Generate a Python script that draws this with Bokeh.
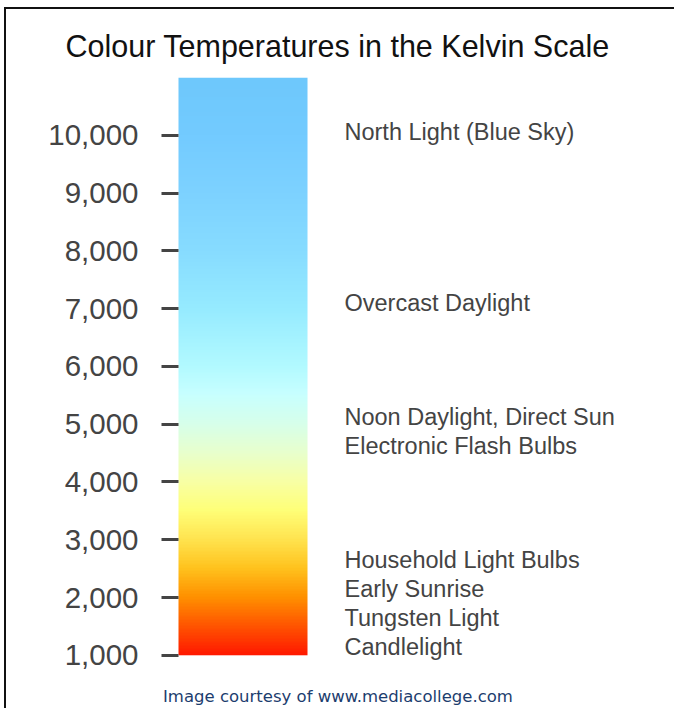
import numpy as np
from bokeh.plotting import figure
from bokeh.models import Range1d, FixedTicker, NumeralTickFormatter, Label
from bokeh.core.properties import value
from bokeh.embed import file_html
from bokeh.resources import INLINE

# ---- data ----
tick_values = [1000, 2000, 3000, 4000, 5000, 6000, 7000, 8000, 9000, 10000]
label_texts = ["North Light (Blue Sky)", "Overcast Daylight",
               "Noon Daylight, Direct Sun", "Electronic Flash Bulbs",
               "Household Light Bulbs", "Early Sunrise",
               "Tungsten Light", "Candlelight"]
label_kelvin = [10050, 7100, 5130, 4630, 2650, 2150, 1650, 1150]

# colour stops of the gradient bar (kelvin -> rgb)
stop_kelvin = [1000, 1500, 2000, 2500, 3000, 3500, 4000, 4500, 5000,
               5500, 6000, 7000, 8000, 9000, 10000, 11000]
stop_r = [255, 255, 255, 255, 255, 255, 248, 232, 215, 200, 178, 150, 135, 125, 115, 110]
stop_g = [25, 85, 145, 195, 228, 255, 255, 255, 255, 255, 250, 235, 220, 210, 203, 200]
stop_b = [0, 0, 0, 30, 80, 120, 165, 205, 235, 255, 255, 255, 255, 255, 255, 252]

bar_low, bar_high = 1000, 11000

# ---- layout (pixels) ----
W, H = 670, 701
frame_left = 155          # frame starts where the ticks start
frame_top = 68
px_per_k = 520 / 9000     # vertical scale
unit_px = 129.0           # one x unit = bar width
tick_len = 17
view_low = bar_high - (H - frame_top) / px_per_k
x_max = (W - frame_left) / unit_px
bar_x0 = tick_len / unit_px

p = figure(width=W, height=H, output_backend="svg", toolbar_location=None,
           x_range=Range1d(0, x_max), y_range=Range1d(view_low, bar_high),
           min_border_left=frame_left, min_border_right=0,
           min_border_top=frame_top, min_border_bottom=0)
p.styles = {"margin-left": "4px", "margin-top": "7px",
            "border-top": "2px solid #111", "border-left": "2px solid #111"}
p.outline_line_color = None
p.background_fill_color = "white"
p.border_fill_color = "white"
p.xgrid.visible = False
p.ygrid.visible = False
p.xaxis.visible = False

# gradient bar
N = 400
ks = np.linspace(bar_low, bar_high, N)
img = np.empty((N, 1), dtype=np.uint32)
view = img.view(dtype=np.uint8).reshape((N, 1, 4))
view[:, 0, 0] = np.interp(ks, stop_kelvin, stop_r).astype(np.uint8)
view[:, 0, 1] = np.interp(ks, stop_kelvin, stop_g).astype(np.uint8)
view[:, 0, 2] = np.interp(ks, stop_kelvin, stop_b).astype(np.uint8)
view[:, 0, 3] = 255
p.image_rgba(image=[img], x=bar_x0, y=bar_low, dw=1, dh=bar_high - bar_low)

# axis (ticks drawn inward, up to the bar)
ax = p.yaxis[0]
ax.ticker = FixedTicker(ticks=tick_values)
ax.formatter = NumeralTickFormatter(format="0,0")
ax.axis_line_color = None
ax.major_tick_line_color = "#444444"
ax.major_tick_line_width = 3
ax.major_tick_out = 0
ax.major_tick_in = tick_len
ax.minor_tick_line_color = None
ax.major_label_standoff = 23
ax.major_label_text_font = "Liberation Sans"
ax.major_label_text_font_size = "29.5px"
ax.major_label_text_color = "#444444"

# labels
p.text(x=[(344 - 161) / unit_px] * len(label_texts), y=label_kelvin, text=label_texts,
       text_font=value("Liberation Sans"), text_font_size="23.5px",
       text_color="#444444", text_baseline="middle", text_align="left")

# title
p.title.text = "Colour Temperatures in the Kelvin Scale"
p.title.align = "left"
p.title.offset = -96
p.title.standoff = 30
p.title.text_font = "Liberation Sans"
p.title.text_font_size = "30.5px"
p.title.text_font_style = "normal"
p.title.text_color = "#111111"

# footer credit at the bottom edge
footer = Label(x=1.5 / unit_px, y=bar_low - (696 - 655) / px_per_k,
               text="Image courtesy of www.mediacollege.com",
               text_font="DejaVu Sans", text_font_size="16.5px",
               text_baseline="middle", text_align="left",
               text_color="#1c3d6e")
p.add_layout(footer)

open("out.html", "w").write(file_html(p, INLINE))
